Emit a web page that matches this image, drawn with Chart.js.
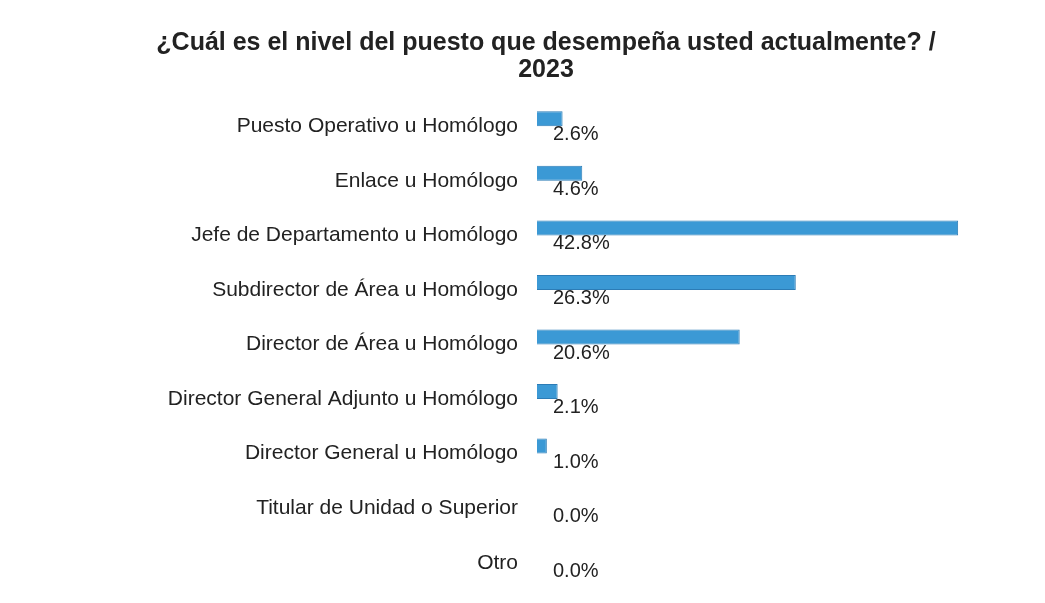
<!DOCTYPE html>
<html>
<head>
<meta charset="utf-8">
<script src="https://cdn.jsdelivr.net/npm/chart.js@4"></script>
<style>
  html, body { margin: 0; padding: 0; background: #fff; }
  #wrap { width: 1045px; height: 603px; }
</style>
</head>
<body>
<div id="wrap"><canvas id="chart" width="1045" height="603"></canvas></div>
<script>
const titleLines = ['¿Cuál es el nivel del puesto que desempeña usted actualmente? /', '2023'];
const categories = [
  'Puesto Operativo u Homólogo',
  'Enlace u Homólogo',
  'Jefe de Departamento u Homólogo',
  'Subdirector de Área u Homólogo',
  'Director de Área u Homólogo',
  'Director General Adjunto u Homólogo',
  'Director General u Homólogo',
  'Titular de Unidad o Superior',
  'Otro'
];
const values2023 = [2.6, 4.6, 42.8, 26.3, 20.6, 2.1, 1.0, 0.0, 0.0];
// empty companion series, keeps the bars in the upper half of each row
const spacer = categories.map(() => 0);

const FONT = "'Liberation Sans', Arial, sans-serif";
const PAD_LEFT = 63;
const PLOT_LEFT = 537;

// percentage labels under each bar, left aligned from the baseline
const valueLabels = {
  id: 'valueLabels',
  afterDatasetsDraw(chart) {
    const ctx = chart.ctx;
    const x0 = chart.scales.x.getPixelForValue(0);
    const slots = chart.getDatasetMeta(1).data;
    ctx.save();
    ctx.font = '20px ' + FONT;
    ctx.fillStyle = '#222';
    ctx.textAlign = 'left';
    ctx.textBaseline = 'middle';
    values2023.forEach((v, i) => {
      ctx.fillText(v.toFixed(1) + '%', x0 + 16, slots[i].y + 1);
    });
    ctx.restore();
  }
};

const chart = new Chart(document.getElementById('chart').getContext('2d'), {
  type: 'bar',
  data: {
    labels: categories,
    datasets: [
      {
        label: '2023',
        data: values2023,
        backgroundColor: '#3b99d5',
        borderColor: '#2c7cb6',
        borderWidth: 1,
        categoryPercentage: 0.55,
        barPercentage: 1.0
      },
      {
        label: '',
        data: spacer,
        backgroundColor: 'rgba(0,0,0,0)',
        borderWidth: 0,
        categoryPercentage: 0.55,
        barPercentage: 1.0
      }
    ]
  },
  options: {
    indexAxis: 'y',
    responsive: false,
    animation: false,
    layout: { autoPadding: false, padding: { left: PAD_LEFT, right: 16, top: 0, bottom: 13 } },
    plugins: {
      legend: { display: false },
      tooltip: { enabled: false },
      title: {
        display: true,
        text: titleLines,
        color: '#222',
        font: { family: FONT, size: 25, weight: 'bold', lineHeight: 1.06 },
        padding: { top: 30, bottom: 16 }
      }
    },
    scales: {
      x: {
        display: false,
        min: 0,
        max: 50
      },
      y: {
        grid: { display: false },
        border: { display: false },
        afterFit(scale) {
          scale.width = PLOT_LEFT - PAD_LEFT;
          scale.paddingTop = 0;
          scale.paddingBottom = 0;
        },
        ticks: {
          color: '#222',
          padding: 11,
          font: { family: FONT, size: 21 }
        }
      }
    }
  },
  plugins: [valueLabels]
});
</script>
</body>
</html>
